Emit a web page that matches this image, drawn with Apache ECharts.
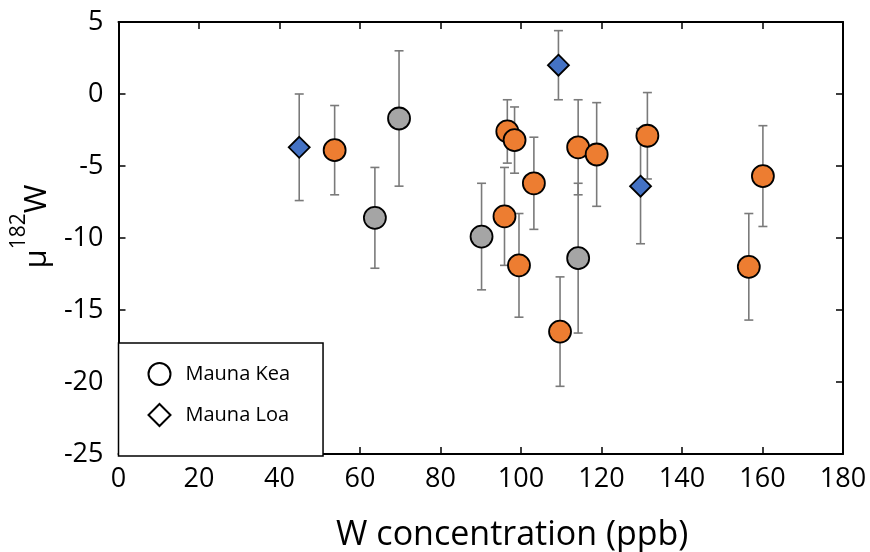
<!DOCTYPE html>
<html>
<head>
<meta charset="utf-8">
<title>μ182W vs W concentration</title>
<script src="https://cdn.jsdelivr.net/npm/echarts@6/dist/echarts.min.js"></script>
<style>
  html, body { margin: 0; padding: 0; background: #fff; }
  #chart { width: 870px; height: 552px; }
</style>
</head>
<body>
<div id="chart"></div>
<script>
// Mauna Kea samples (orange group)
const keaOrangeX   = [53.7, 95.9, 96.6, 98.4, 99.5, 103.2, 109.7, 114.2, 118.8, 131.4, 156.6, 160.1];
const keaOrangeMu  = [-3.9, -8.5, -2.6, -3.2, -11.9, -6.2, -16.5, -3.7, -4.2, -2.9, -12.0, -5.7];
const keaOrangeErr = [3.1, 3.4, 2.2, 2.3, 3.6, 3.2, 3.8, 3.3, 3.6, 3.0, 3.7, 3.5];

// Mauna Kea samples (grey group)
const keaGreyX   = [63.7, 69.7, 90.2, 114.2];
const keaGreyMu  = [-8.6, -1.7, -9.9, -11.4];
const keaGreyErr = [3.5, 4.7, 3.7, 5.2];

// Mauna Loa samples
const loaX   = [44.9, 109.3, 129.7];
const loaMu  = [-3.7, 2.0, -6.4];
const loaErr = [3.7, 2.4, 4.0];

// Axis ticks
const xTicks = { min: 0, max: 180, step: 20 };
const yTicks = { min: -25, max: 5, step: 5 };

const FONT = 'Open Sans';
const ORANGE = '#ED7D31';
const GREY = '#A5A5A5';
const BLUE = '#4472C4';

function points(xs, ys, color) {
  return xs.map((x, i) => ({ value: [x, ys[i]], itemStyle: { color: color } }));
}
function bars(xs, ys, es) {
  return xs.map((x, i) => [x, ys[i], es[i]]);
}

const errorData = []
  .concat(bars(keaOrangeX, keaOrangeMu, keaOrangeErr))
  .concat(bars(keaGreyX, keaGreyMu, keaGreyErr))
  .concat(bars(loaX, loaMu, loaErr));

const keaData = points(keaGreyX, keaGreyMu, GREY).concat(points(keaOrangeX, keaOrangeMu, ORANGE));
const loaData = points(loaX, loaMu, BLUE);

const axisLine = { show: true, onZero: false, lineStyle: { color: '#000', width: 2 } };
const axisTick = { show: true, inside: true, length: 7, lineStyle: { color: '#000', width: 1.5 } };

const chart = echarts.init(document.getElementById('chart'), null, { renderer: 'canvas' });

chart.setOption({
  animation: false,
  backgroundColor: '#fff',
  grid: { left: 118.5, right: 27, top: 22, bottom: 98, containLabel: false, outerBoundsMode: 'none' },
  xAxis: [
    {
      type: 'value', position: 'bottom',
      min: xTicks.min, max: xTicks.max, interval: xTicks.step,
      axisLine: axisLine, axisTick: axisTick, splitLine: { show: false },
      axisLabel: { fontSize: 27, fontFamily: FONT, color: '#000', margin: 12 },
      name: 'W concentration (ppb)', nameLocation: 'middle', nameGap: 64,
      nameTextStyle: { fontSize: 34, fontFamily: FONT, color: '#000', padding: [0, 0, 0, 63] }
    },
    {
      type: 'value', position: 'top',
      min: xTicks.min, max: xTicks.max, interval: xTicks.step,
      axisLine: axisLine, axisTick: axisTick, splitLine: { show: false },
      axisLabel: { show: false }
    }
  ],
  yAxis: [
    {
      type: 'value', position: 'left',
      min: yTicks.min, max: yTicks.max, interval: yTicks.step,
      axisLine: axisLine, axisTick: axisTick, splitLine: { show: false },
      axisLabel: { fontSize: 27, fontFamily: FONT, color: '#000', margin: 15 },
      name: '{m|μ}{s|182}{m|W}', nameLocation: 'middle', nameGap: 52,
      nameTextStyle: {
        color: '#000', padding: [0, 0, 0, 23],
        rich: {
          m: { fontSize: 31, fontFamily: FONT, color: '#000', lineHeight: 58 },
          s: { fontSize: 21, fontFamily: FONT, color: '#000', verticalAlign: 'top' }
        }
      }
    },
    {
      type: 'value', position: 'right',
      min: yTicks.min, max: yTicks.max, interval: yTicks.step,
      axisLine: axisLine, axisTick: axisTick, splitLine: { show: false },
      axisLabel: { show: false }
    }
  ],
  legend: {
    orient: 'vertical',
    left: 118.5, top: 343,
    padding: [19, 33, 29, 29],
    itemWidth: 22, itemHeight: 22, itemGap: 17,
    borderColor: '#000', borderWidth: 1.5, backgroundColor: '#fff',
    textStyle: { fontSize: 20, fontFamily: FONT, color: '#000', padding: [0, 0, 0, 10] },
    itemStyle: { color: '#fff', borderColor: '#000', borderWidth: 2 },
    data: [
      { name: 'Mauna Kea', icon: 'circle' },
      { name: 'Mauna Loa', icon: 'diamond' }
    ]
  },
  series: [
    {
      name: 'uncertainty',
      type: 'custom',
      z: 1,
      silent: true,
      encode: { x: 0, y: 1 },
      data: errorData,
      renderItem: function (params, api) {
        const x = api.value(0), y = api.value(1), e = api.value(2);
        const hi = api.coord([x, y + e]);
        const lo = api.coord([x, y - e]);
        const cap = 4.5;
        const style = { stroke: '#7A7A7A', lineWidth: 1.6 };
        return {
          type: 'group',
          children: [
            { type: 'line', shape: { x1: hi[0], y1: hi[1], x2: lo[0], y2: lo[1] }, style: style },
            { type: 'line', shape: { x1: hi[0] - cap, y1: hi[1], x2: hi[0] + cap, y2: hi[1] }, style: style },
            { type: 'line', shape: { x1: lo[0] - cap, y1: lo[1], x2: lo[0] + cap, y2: lo[1] }, style: style }
          ]
        };
      }
    },
    {
      name: 'Mauna Kea',
      type: 'scatter',
      z: 3,
      symbol: 'circle',
      symbolSize: 22,
      itemStyle: { borderColor: '#000', borderWidth: 1.8, opacity: 1 },
      data: keaData
    },
    {
      name: 'Mauna Loa',
      type: 'scatter',
      z: 3,
      symbol: 'diamond',
      symbolSize: 21,
      itemStyle: { color: BLUE, borderColor: '#000', borderWidth: 1.8, opacity: 1 },
      data: loaData
    }
  ]
});
</script>
</body>
</html>
